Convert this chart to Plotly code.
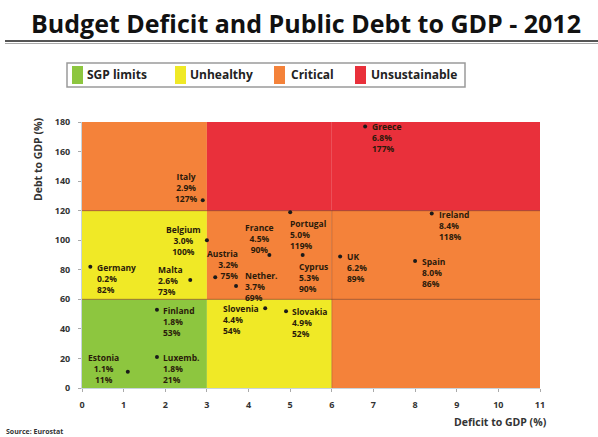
import plotly.graph_objects as go

# ---- data ----
countries = ["Greece", "Italy", "Belgium", "Germany", "Malta", "Finland", "Estonia",
             "Luxemb.", "Slovenia", "Slovakia", "Austria", "Nether.", "France",
             "Portugal", "Cyprus", "UK", "Ireland", "Spain"]
deficit = [6.8, 2.9, 3.0, 0.2, 2.6, 1.8, 1.1, 1.8, 4.4, 4.9, 3.2, 3.7, 4.5, 5.0, 5.3, 6.2, 8.4, 8.0]
debt = [177, 127, 100, 82, 73, 53, 11, 21, 54, 52, 75, 69, 90, 119, 90, 89, 118, 86]

deficit_bounds = [0, 3, 6, 11]
debt_bounds = [0, 60, 120, 180]
# zone index per [debt band][deficit band]
zone_grid = [[0, 1, 2],
             [1, 2, 2],
             [2, 3, 3]]
zone_names = ["SGP limits", "Unhealthy", "Critical", "Unsustainable"]
x_ticks = list(range(0, 12))
y_ticks = list(range(0, 181, 20))

# ---- style ----
zone_colors = ["#8dc63f", "#f0e926", "#f4823a", "#e9303b"]
FONT = "Open Sans"
W, H = 598, 437
L, R, T, B = 82, 540, 122, 388

def px_x(p):
    return (p - L) / (R - L)

def px_y(p):
    return (B - p) / (B - T)

# label placement: xanchor, yanchor, xshift, yshift, align
place = {
    "Greece": ("left", "top", 5, 7, "left"),
    "Italy": ("right", "bottom", -3, -6, "center"),
    "Belgium": ("right", "middle", -4, 0, "center"),
    "Germany": ("left", "top", 5, 7, "left"),
    "Malta": ("right", "middle", -5, 0, "left"),
    "Finland": ("left", "top", 4, 7, "left"),
    "Estonia": ("right", "middle", -7, 3, "center"),
    "Luxemb.": ("left", "top", 4, 7, "left"),
    "Slovenia": ("right", "top", -4, 7, "left"),
    "Slovakia": ("left", "top", 4, 7, "left"),
    "Austria": ("right", "bottom", 25, -6, "right"),
    "Nether.": ("left", "middle", 7, 0, "left"),
    "France": ("center", "bottom", -10, -2, "center"),
    "Portugal": ("left", "top", -2, -4, "left"),
    "Cyprus": ("left", "top", -6, -4, "left"),
    "UK": ("left", "top", 5, 7, "left"),
    "Ireland": ("left", "top", 5, 7, "left"),
    "Spain": ("left", "top", 5, 7, "left"),
}

fig = go.Figure()

shapes = []
# zone rectangles
for i in range(3):
    for j in range(3):
        shapes.append(dict(type="rect", xref="x", yref="y", layer="below",
                           x0=deficit_bounds[j], x1=deficit_bounds[j + 1],
                           y0=debt_bounds[i], y1=debt_bounds[i + 1],
                           fillcolor=zone_colors[zone_grid[i][j]], line=dict(width=0)))
# band lines
for yb in debt_bounds[1:3]:
    shapes.append(dict(type="line", xref="x", yref="y", layer="below",
                       x0=deficit_bounds[0], x1=deficit_bounds[-1], y0=yb, y1=yb,
                       line=dict(color="rgba(120,50,20,0.6)", width=1)))
shapes.append(dict(type="line", xref="x", yref="y", layer="below",
                   x0=deficit_bounds[2], x1=deficit_bounds[2], y0=debt_bounds[0], y1=debt_bounds[2],
                   line=dict(color="rgba(120,50,20,0.35)", width=1)))

fig.add_trace(go.Scatter(x=deficit, y=debt, mode="markers",
                         marker=dict(color="#1a1a1a", size=4),
                         showlegend=False, hoverinfo="skip"))

annotations = []
for c, dx, dy in zip(countries, deficit, debt):
    xa, ya, xs, ys, al = place[c]
    annotations.append(dict(x=dx, y=dy, xref="x", yref="y", showarrow=False,
                            text=f"{c}<br>{dx:.1f}%<br>{dy:.0f}%",
                            xanchor=xa, yanchor=ya, xshift=xs, yshift=ys, align=al,
                            font=dict(family=FONT, size=8.5, color="#2a1a0a", weight="bold")))

# title underline
shapes.append(dict(type="line", xref="paper", yref="paper", x0=px_x(5), x1=px_x(598),
                   y0=px_y(41), y1=px_y(41), line=dict(color="#555", width=2)))
shapes.append(dict(type="line", xref="paper", yref="paper", x0=px_x(5), x1=px_x(598),
                   y0=px_y(43.5), y1=px_y(43.5), line=dict(color="#aaa", width=1)))

# legend (manual)
shapes.append(dict(type="rect", xref="paper", yref="paper",
                   x0=px_x(67), x1=px_x(465), y0=px_y(87), y1=px_y(63),
                   fillcolor="white", line=dict(color="#9a9a9a", width=1.5)))
sw_x = [72, 175, 274, 355]
tx_x = [85, 188, 289, 369]
for k in range(4):
    shapes.append(dict(type="rect", xref="paper", yref="paper",
                       x0=px_x(sw_x[k]), x1=px_x(sw_x[k] + 11), y0=px_y(84), y1=px_y(66),
                       fillcolor=zone_colors[k], line=dict(width=0)))
    annotations.append(dict(x=px_x(tx_x[k]), y=px_y(75), xref="paper", yref="paper",
                            showarrow=False, text=zone_names[k], xanchor="left", yanchor="middle",
                            font=dict(family=FONT, size=12, color="#222", weight="bold")))

# axis titles and source
annotations.append(dict(x=px_x(38), y=px_y(160), xref="paper", yref="paper", showarrow=False,
                        text="Debt to GDP (%)", textangle=-90, xanchor="center", yanchor="middle",
                        font=dict(family=FONT, size=10.5, color="#333", weight="bold")))
annotations.append(dict(x=px_x(549), y=px_y(422), xref="paper", yref="paper", showarrow=False,
                        text="Deficit to GDP (%)", xanchor="right", yanchor="middle",
                        font=dict(family=FONT, size=10.5, color="#333", weight="bold")))
annotations.append(dict(x=px_x(4), y=px_y(431), xref="paper", yref="paper", showarrow=False,
                        text="Source: Eurostat", xanchor="left", yanchor="middle",
                        font=dict(family=FONT, size=7, color="#333", weight="bold")))

fig.update_layout(
    width=W, height=H,
    margin=dict(l=L, r=W - R, t=T, b=H - B),
    paper_bgcolor="white", plot_bgcolor="white",
    title=dict(text="Budget Deficit and Public Debt to GDP - 2012",
               x=306 / W, xanchor="center", y=1 - 24 / H, yanchor="middle",
               font=dict(family=FONT, size=25, color="#111", weight="bold")),
    shapes=shapes, annotations=annotations,
    xaxis=dict(range=[deficit_bounds[0], deficit_bounds[-1]], tickvals=x_ticks,
               showgrid=False, zeroline=False, showline=True, linecolor="#c8d4dc",
               ticks="outside", ticklen=3, tickcolor="#aaa", ticklabelstandoff=5,
               tickfont=dict(family=FONT, size=9, color="#333", weight="bold")),
    yaxis=dict(range=[debt_bounds[0], debt_bounds[-1]], tickvals=y_ticks,
               showgrid=False, zeroline=False, showline=True, linecolor="#c8d4dc",
               ticks="outside", ticklen=3, tickcolor="#aaa", ticklabelstandoff=6,
               tickfont=dict(family=FONT, size=9, color="#333", weight="bold")),
    showlegend=False,
)

fig.write_html("out.html")
